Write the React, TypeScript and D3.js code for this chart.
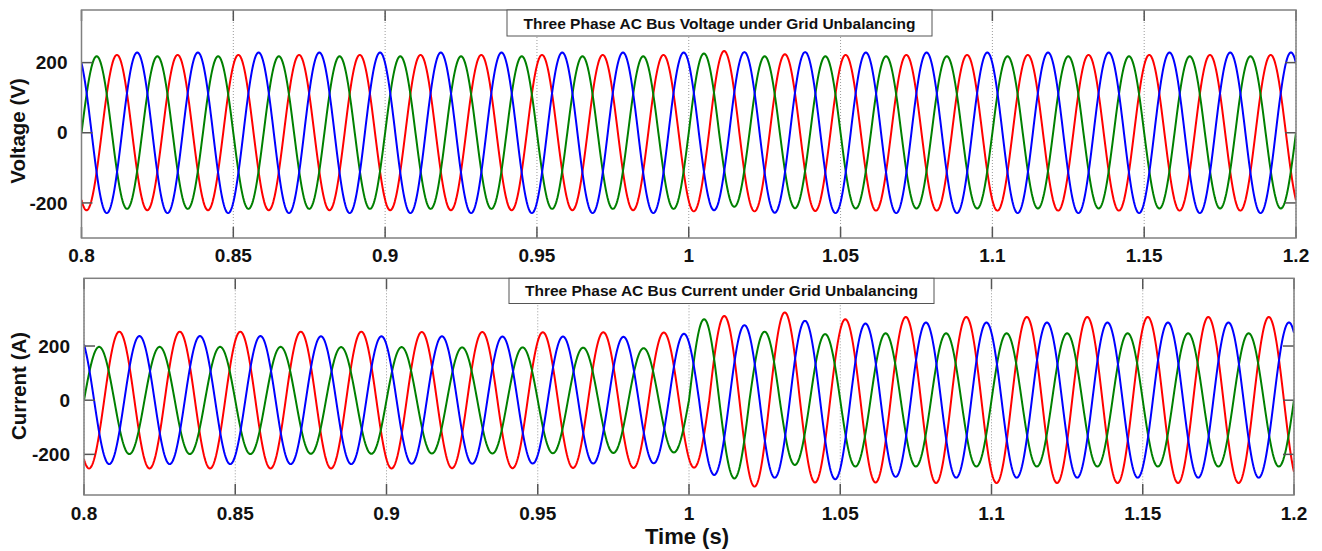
import React from 'react';
import * as d3 from 'd3';

const W = 1322;
const H = 551;
const FONT = '"Liberation Sans", Arial, Helvetica, sans-serif';

const TIME_START = 0.8;
const TIME_END = 1.2;
const FREQ = 50;

const timeTicks = [0.8, 0.85, 0.9, 0.95, 1, 1.05, 1.1, 1.15, 1.2];
const timeTickLabels = ['0.8', '0.85', '0.9', '0.95', '1', '1.05', '1.1', '1.15', '1.2'];
const valueTicks = [-200, 0, 200];
const valueTickLabels = ['-200', '0', '200'];

const phaseColors = ['#ff0000', '#008000', '#0000ff'];
// phase angle of each phase at t = 0.8 s (degrees)
const phaseAngles = [-120, 0, 120];

// Peak magnitude of every half-cycle (in time order).
// Voltage panel
const voltageRed = [
  221, 222, 221, 222, 221, 222, 221, 222, 221, 222,
  221, 222, 221, 222, 221, 222, 221, 222, 221, 222,
  224, 233, 224, 224, 223, 222, 222, 222, 222, 222,
  222, 222, 222, 222, 222, 222, 222, 222, 222, 222,
  222,
];
const voltageGreen = [
  218, 217, 218, 217, 218, 217, 218, 217, 218, 217,
  218, 217, 218, 217, 218, 217, 218, 217, 218, 217,
  226, 211, 218, 215, 218, 216, 218, 216, 218, 216,
  218, 216, 218, 216, 218, 216, 218, 216, 218, 216,
];
const voltageBlue = [
  229, 229, 229, 229, 229, 229, 229, 229, 229, 229,
  229, 229, 229, 229, 229, 229, 229, 229, 229, 229,
  229, 221, 230, 228, 230, 229, 229, 229, 229, 229,
  229, 229, 229, 229, 229, 229, 229, 229, 229, 229,
  229,
];

// Current panel
const currentRed = [
  252, 253, 252, 253, 252, 253, 252, 253, 252, 253,
  252, 252, 251, 252, 251, 251, 250, 251, 250, 250,
  249, 311, 319, 324, 304, 299, 304, 307, 306, 307,
  306, 307, 306, 307, 306, 307, 306, 307, 306, 307,
  306,
];
const currentGreen = [
  197, 199, 197, 199, 197, 199, 197, 198, 196, 198,
  196, 197, 195, 197, 195, 196, 194, 195, 192, 193,
  299, 289, 253, 239, 244, 245, 247, 245, 247, 245,
  247, 245, 247, 245, 247, 245, 247, 245, 247, 245,
];
const currentBlue = [
  237, 236, 237, 236, 237, 236, 237, 236, 236, 236,
  236, 235, 236, 235, 235, 234, 235, 234, 234, 233,
  245, 276, 277, 286, 293, 292, 283, 283, 287, 286,
  287, 286, 287, 286, 287, 286, 287, 286, 287, 286,
  287,
];

type Pt = [number, number];

function buildWave(amps: number[], phaseDeg: number): Pt[] {
  const phi = (phaseDeg * Math.PI) / 180;
  const w = 2 * Math.PI * FREQ;
  const th0 = phi;
  const th1 = w * (TIME_END - TIME_START) + phi;
  const mStart = Math.floor(th0 / Math.PI + 1e-9);
  const mEnd = Math.ceil(th1 / Math.PI - 1e-9) - 1;
  const pts: Pt[] = [];
  for (let m = mStart; m <= mEnd; m++) {
    const a = Math.max(m * Math.PI, th0);
    const b = Math.min((m + 1) * Math.PI, th1);
    const amp = amps[Math.min(m - mStart, amps.length - 1)];
    const n = 40;
    for (let k = m === mStart ? 0 : 1; k <= n; k++) {
      const th = a + ((b - a) * k) / n;
      pts.push([TIME_START + (th - phi) / w, amp * Math.sin(th)]);
    }
  }
  return pts;
}

interface PanelSpec {
  left: number;
  right: number;
  top: number;
  bottom: number;
  yDomain: [number, number];
  title: string;
  box: [number, number, number, number];
  titleBaseline: number;
  yLabel: string;
  yLabelX: number;
  yLabelY: number;
  tickLabelBaseline: number;
  series: number[][];
}

const panels: PanelSpec[] = [
  {
    left: 81.5,
    right: 1296,
    top: 10,
    bottom: 238,
    yDomain: [-300, 350],
    title: 'Three Phase AC Bus Voltage under Grid Unbalancing',
    box: [507, 932, 10, 36],
    titleBaseline: 28.5,
    yLabel: 'Voltage (V)',
    yLabelX: 18,
    yLabelY: 131,
    tickLabelBaseline: 262,
    series: [voltageRed, voltageGreen, voltageBlue],
  },
  {
    left: 84,
    right: 1294,
    top: 278.3,
    bottom: 495,
    yDomain: [-350, 450],
    title: 'Three Phase AC Bus Current under Grid Unbalancing',
    box: [509, 934, 278.3, 303.5],
    titleBaseline: 295.5,
    yLabel: 'Current (A)',
    yLabelX: 19,
    yLabelY: 386,
    tickLabelBaseline: 520,
    series: [currentRed, currentGreen, currentBlue],
  },
];

function Panel({ p, idx }: { p: PanelSpec; idx: number }) {
  const x = d3.scaleLinear().domain([TIME_START, TIME_END]).range([p.left, p.right]);
  const y = d3.scaleLinear().domain(p.yDomain).range([p.bottom, p.top]);
  const line = d3
    .line<Pt>()
    .x((d) => x(d[0]))
    .y((d) => y(d[1]));
  const tickLen = 11;
  const clipId = `clip-${idx}`;
  return (
    <g>
      <defs>
        <clipPath id={clipId}>
          <rect x={p.left} y={p.top} width={p.right - p.left} height={p.bottom - p.top} />
        </clipPath>
      </defs>
      <rect x={p.left} y={p.top} width={p.right - p.left} height={p.bottom - p.top} fill="#fff" />
      {/* dotted vertical grid */}
      {timeTicks.map((t, i) => (
        <line
          key={`g${i}`}
          x1={x(t)}
          x2={x(t)}
          y1={p.top}
          y2={p.bottom}
          stroke="#9a9a9a"
          strokeWidth={1}
          strokeDasharray="1,2"
        />
      ))}
      <g clipPath={`url(#${clipId})`}>
        {p.series.map((amps, i) => (
          <path
            key={`s${i}`}
            d={line(buildWave(amps, phaseAngles[i])) || ''}
            fill="none"
            stroke={phaseColors[i]}
            strokeWidth={2}
            strokeLinejoin="round"
          />
        ))}
      </g>
      {/* ticks */}
      {timeTicks.map((t, i) => (
        <g key={`xt${i}`}>
          <line x1={x(t)} x2={x(t)} y1={p.top} y2={p.top + tickLen} stroke="#555" strokeWidth={1.5} />
          <line x1={x(t)} x2={x(t)} y1={p.bottom} y2={p.bottom - tickLen} stroke="#555" strokeWidth={1.5} />
          <text
            x={x(t)}
            y={p.tickLabelBaseline}
            textAnchor="middle"
            fontFamily={FONT}
            fontWeight="bold"
            fontSize={19}
            fill="#111"
          >
            {timeTickLabels[i]}
          </text>
        </g>
      ))}
      {valueTicks.map((v, i) => (
        <g key={`yt${i}`}>
          <line x1={p.left} x2={p.left + tickLen} y1={y(v)} y2={y(v)} stroke="#555" strokeWidth={1.5} />
          <line x1={p.right} x2={p.right - tickLen} y1={y(v)} y2={y(v)} stroke="#555" strokeWidth={1.5} />
          <text
            x={p.left - 14}
            y={y(v)}
            dy="0.35em"
            textAnchor="end"
            fontFamily={FONT}
            fontWeight="bold"
            fontSize={19}
            fill="#111"
          >
            {valueTickLabels[i]}
          </text>
        </g>
      ))}
      <rect
        x={p.left}
        y={p.top}
        width={p.right - p.left}
        height={p.bottom - p.top}
        fill="none"
        stroke="#808080"
        strokeWidth={1.5}
      />
      {/* title box */}
      <rect
        x={p.box[0]}
        y={p.box[2]}
        width={p.box[1] - p.box[0]}
        height={p.box[3] - p.box[2]}
        fill="#fff"
        stroke="#555"
        strokeWidth={1}
      />
      <text
        x={(p.box[0] + p.box[1]) / 2}
        y={p.titleBaseline}
        textAnchor="middle"
        fontFamily={FONT}
        fontWeight="bold"
        fontSize={15.5}
        fill="#111"
      >
        {p.title}
      </text>
      <text
        transform={`translate(${p.yLabelX},${p.yLabelY}) rotate(-90)`}
        textAnchor="middle"
        dy="0.35em"
        fontFamily={FONT}
        fontWeight="bold"
        fontSize={20.5}
        fill="#111"
      >
        {p.yLabel}
      </text>
    </g>
  );
}

export default function App() {
  return (
    <svg
      width={W}
      height={H}
      viewBox={`0 0 ${W} ${H}`}
      style={{ position: 'absolute', left: 0, top: 0, display: 'block', background: '#fff' }}
    >
      <rect x={0} y={0} width={W} height={H} fill="#fff" />
      {panels.map((p, i) => (
        <Panel key={i} p={p} idx={i} />
      ))}
      <text
        x={687}
        y={544}
        textAnchor="middle"
        fontFamily={FONT}
        fontWeight="bold"
        fontSize={22}
        fill="#111"
      >
        Time (s)
      </text>
    </svg>
  );
}
